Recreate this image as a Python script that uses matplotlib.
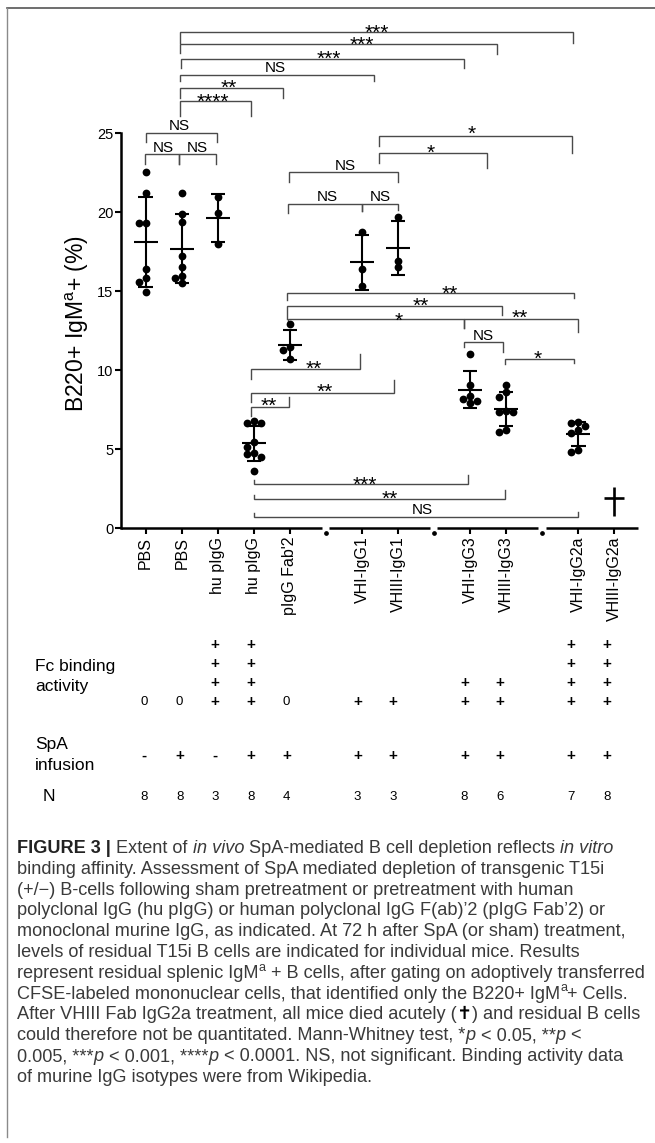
import matplotlib
matplotlib.use('Agg')
import matplotlib.pyplot as plt
import numpy as np
from matplotlib import font_manager
from matplotlib.transforms import ScaledTranslation

W, H, DPI = 655, 1143, 100

# ---------------- data ----------------
categories = ["PBS", "PBS", "hu pIgG", "hu pIgG", "pIgG Fab'2",
              "VHI-IgG1", "VHIII-IgG1", "VHI-IgG3", "VHIII-IgG3",
              "VHI-IgG2a", "VHIII-IgG2a"]
slots = [0, 1, 2, 3, 4, 6, 7, 9, 10, 12, 13]   # x slot of each group
breaks = [5, 8, 11]                             # axis breaks between families

pbs_sham = [22.57, 21.24, 19.3, 19.3, 16.39, 15.86, 15.57, 14.98]
pbs_spa = [21.24, 19.87, 19.37, 17.25, 16.56, 15.97, 15.86, 15.54]
hu_pigg_sham = [20.99, 19.97, 17.97]
hu_pigg_spa = [6.81, 6.68, 6.68, 5.44, 5.16, 4.78, 4.70, 4.49, 3.65]
pigg_fab2 = [12.91, 11.46, 11.28, 10.72]
vhi_igg1 = [18.77, 16.39, 15.36]
vhiii_igg1 = [19.68, 16.94, 16.56]
vhi_igg3 = [11.0, 9.05, 8.4, 8.2, 8.05, 7.95]
vhiii_igg3 = [9.07, 8.65, 8.29, 7.42, 7.38, 7.36, 6.22, 6.11]
vhi_igg2a = [6.7, 6.65, 6.45, 6.2, 6.0, 4.95, 4.85]
vhiii_igg2a = []   # all mice died (cross symbol)
groups = [pbs_sham, pbs_spa, hu_pigg_sham, hu_pigg_spa, pigg_fab2,
          vhi_igg1, vhiii_igg1, vhi_igg3, vhiii_igg3, vhi_igg2a, vhiii_igg2a]

fc_binding = [0, 0, 4, 4, 0, 1, 1, 2, 2, 4, 4]
spa_infusion = ['-', '+', '-', '+', '+', '+', '+', '+', '+', '+', '+']
n_mice = [8, 8, 3, 8, 4, 3, 3, 8, 6, 7, 8]

# significance brackets: x_left, x_right, y_line, y_end_left, y_end_right, label, text_x, text_y
BRACKETS = [
    (0.96, 11.86, 31.39, 30.73, 30.73, '***', 6.41, 31.71),
    (0.96, 9.75, 30.63, 30.06, 30.00, '***', 5.99, 30.95),
    (0.99, 8.84, 29.70, 29.11, 29.11, '***', 5.07, 30.10),
    (0.96, 6.32, 28.69, 28.31, 28.31, 'NS', 3.59, 29.22),
    (0.96, 3.81, 27.89, 27.25, 27.25, '**', 2.30, 28.27),
    (0.96, 2.92, 27.04, 26.11, 26.11, '****', 1.85, 27.36),
    (0.00, 1.97, 25.04, 24.47, 24.47, 'NS', 0.93, 25.53),
    (-0.03, 0.93, 23.67, 23.04, 23.04, 'NS', 0.50, 24.15),
    (0.93, 1.95, 23.67, 23.04, 23.04, 'NS', 1.43, 24.15),
    (6.46, 11.83, 24.83, 24.22, 23.73, '*', 9.03, 25.32),
    (6.46, 9.46, 23.73, 23.10, 22.78, '*', 7.90, 24.15),
    (3.98, 7.00, 22.53, 21.90, 21.90, 'NS', 5.55, 23.00),
    (3.95, 6.01, 20.53, 19.94, 20.10, 'NS', 5.03, 21.03),
    (6.01, 7.00, 20.53, 20.10, 20.15, 'NS', 6.51, 21.03),
    (3.93, 11.89, 14.87, 14.45, 14.58, '**', 8.42, 15.23),
    (3.93, 9.89, 14.09, 13.23, 13.50, '**', 7.63, 14.45),
    (3.95, 8.83, 13.23, 12.93, 12.66, '*', 7.03, 13.54),
    (8.83, 11.99, 13.23, 12.66, 12.44, '**', 10.38, 13.71),
    (8.83, 9.90, 11.81, 11.49, 11.18, 'NS', 9.35, 12.28),
    (9.97, 11.89, 10.72, 10.40, 10.48, '*', 10.86, 11.08),
    (2.92, 5.94, 10.06, 9.43, 11.01, '**', 4.65, 10.44),
    (2.92, 6.89, 8.59, 8.01, 9.39, '**', 4.96, 9.01),
    (2.92, 3.98, 7.70, 7.11, 8.29, '**', 3.40, 8.12),
    (2.99, 8.94, 2.80, 3.06, 3.37, '***', 6.08, 3.16),
    (2.99, 9.96, 1.84, 2.11, 2.42, '**', 6.78, 2.22),
    (2.99, 11.98, 0.73, 0.99, 1.05, 'NS', 7.68, 1.27),
]

# ---------------- fonts ----------------
names = {f.name for f in font_manager.fontManager.ttflist}
BASE = 'Liberation Sans' if 'Liberation Sans' in names else 'DejaVu Sans'
CAP = 'Liberation Sans Narrow' if 'Liberation Sans Narrow' in names else BASE
plt.rcParams['font.family'] = [BASE, 'DejaVu Sans']
plt.rcParams['mathtext.fontset'] = 'custom'
plt.rcParams['mathtext.rm'] = BASE
plt.rcParams['mathtext.it'] = BASE + ':italic'

# ---------------- geometry (pixels) ----------------
AX_L, AX_R = 121.0, 637.5
Y0_PX, Y25_PX = 528.3, 133.3
XMIN, XMAX = -0.685, 13.64
PX_PER_SLOT = (AX_R - AX_L) / (XMAX - XMIN)
PX_PER_UNIT = (Y0_PX - Y25_PX) / 25.0

fig = plt.figure(figsize=(W / DPI, H / DPI), dpi=DPI)
ax = fig.add_axes([AX_L / W, 1 - Y0_PX / H, (AX_R - AX_L) / W, (Y0_PX - Y25_PX) / H])
ax.set_xlim(XMIN, XMAX)
ax.set_ylim(0, 25)
ax.patch.set_alpha(0)

for s in ['top', 'right', 'bottom']:
    ax.spines[s].set_visible(False)
ax.spines['left'].set_linewidth(1.8)
ax.spines['left'].set_bounds(0, 25)

ax.set_yticks([0, 5, 10, 15, 20, 25])
ax.tick_params(axis='y', length=4, width=1.5, labelsize=10.5, pad=1.5)
ax.set_xticks(slots)
ax.set_xticklabels(categories, rotation=90, fontsize=11.5)
ax.tick_params(axis='x', length=4, width=1.5, pad=2)

# broken x axis
edges = [XMIN]
for b in breaks:
    edges += [b - 0.12, b + 0.09]
edges.append(XMAX)
for i in range(0, len(edges), 2):
    ax.plot([edges[i], edges[i + 1]], [0, 0], color='black', lw=1.8,
            solid_capstyle='butt', clip_on=False, zorder=5)
dot_tr = ax.transData + ScaledTranslation(0, -3.2 / 72, fig.dpi_scale_trans)
for b in breaks:
    ax.plot([b], [0], 'o', ms=2.4, color='black', transform=dot_tr, clip_on=False)


def swarm(vals, slot, d=7.0):
    placed, xs = [], []
    for v in vals:
        ypx = v * PX_PER_UNIT
        for off in [0, -1, 1, -2, 2, -3, 3]:
            xpx = off * d
            if all((xpx - px) ** 2 + (ypx - py) ** 2 >= (0.85 * d) ** 2 for px, py in placed):
                break
        placed.append((xpx, ypx))
        xs.append(slot + xpx / PX_PER_SLOT)
    return xs


for vals, k in zip(groups, slots):
    if len(vals) == 0:
        continue
    xs = swarm(vals, k)
    ax.plot(xs, vals, 'o', ms=5.6, color='black', mew=0, clip_on=False, zorder=3)
    m = np.mean(vals)
    sd = np.std(vals, ddof=1)
    kw = dict(color='black', lw=1.5, clip_on=False, zorder=4, solid_capstyle='butt')
    ax.plot([k, k], [m - sd, m + sd], **kw)
    ax.plot([k - 0.2, k + 0.2], [m + sd] * 2, **kw)
    ax.plot([k - 0.2, k + 0.2], [m - sd] * 2, **kw)
    ax.plot([k - 0.33, k + 0.33], [m, m], **kw)

# cross for group where all mice died
kd = slots[-1]
ax.plot([kd, kd], [0.78, 2.63], color='black', lw=1.9, clip_on=False, solid_capstyle='butt')
ax.plot([kd - 0.30, kd + 0.26], [1.9, 1.9], color='black', lw=1.9, clip_on=False, solid_capstyle='butt')


def put_label(x, yc, s):
    if '*' in s:
        fs, frac = 15, 0.575
    else:
        fs, frac = 11, 0.358
    tr = ax.transData + ScaledTranslation(0, -frac * fs / 72, fig.dpi_scale_trans)
    ax.text(x, yc, s, fontsize=fs, ha='center', va='baseline', transform=tr,
            clip_on=False, color='black')


for (xa, xb, y, ya, yb, lab, tx, ty) in BRACKETS:
    ax.plot([xa, xa, xb, xb], [ya, y, y, yb], color='#4a4a4a', lw=1.0,
            clip_on=False, solid_joinstyle='miter')
    put_label(tx, ty, lab)

# ---------------- helpers in pixel space ----------------
def ftx(px):
    return px / W


def fty(py):
    return 1 - py / H


# y label (starts at the bottom near y=411 px)
fig.text(ftx(77), fty(411.5), r'B220+ IgM$^{\mathrm{a}}$+ (%)', rotation=90,
         ha='center', va='bottom', fontsize=16.5)

# ---------------- table below axis ----------------
TABLE_X0, TABLE_DX = 144.0, 35.6
plus_rows = [701.7, 683.0, 664.0, 645.0]
for k, c, spa, n in zip(slots, fc_binding, spa_infusion, n_mice):
    x = ftx(TABLE_X0 + TABLE_DX * k)
    if c == 0:
        fig.text(x, fty(plus_rows[0]), '0', ha='center', va='center', fontsize=9.5)
    else:
        for r in range(c):
            fig.text(x, fty(plus_rows[r]), '+', ha='center', va='center',
                     fontsize=11, fontweight='bold')
    fig.text(x, fty(756.0), spa, ha='center', va='center', fontsize=11,
             fontweight='bold')
    fig.text(x, fty(797.0), str(n), ha='center', va='center', fontsize=9.5)

fig.text(ftx(35), fty(666.7), 'Fc binding', ha='left', va='center', fontsize=12.5)
fig.text(ftx(35), fty(686.7), 'activity', ha='left', va='center', fontsize=12.5)
fig.text(ftx(35), fty(745.0), 'SpA', ha='left', va='center', fontsize=12.5)
fig.text(ftx(35), fty(765.0), 'infusion', ha='left', va='center', fontsize=12.5)
fig.text(ftx(43), fty(796.7), 'N', ha='left', va='center', fontsize=12.5)

# ---------------- frame ----------------
fig.add_artist(plt.Line2D([ftx(7), ftx(655)], [fty(8.3), fty(8.3)], color='#555555', lw=1.2))
fig.add_artist(plt.Line2D([ftx(7.3), ftx(7.3)], [fty(8.3), fty(1137)], color='#8a8a8a', lw=1.0))

# ---------------- caption ----------------
caption_lines = [
    [("FIGURE 3 | ", 'bold'), ("Extent of ", 'reg'), ("in vivo", 'ital'),
     (" SpA-mediated B cell depletion reflects ", 'reg'), ("in vitro", 'ital')],
    [("binding affinity. Assessment of SpA mediated depletion of transgenic T15i", 'reg')],
    [("(+/\u2212) B-cells following sham pretreatment or pretreatment with human", 'reg')],
    [("polyclonal IgG (hu pIgG) or human polyclonal IgG F(ab)\u20192 (pIgG Fab\u20192) or", 'reg')],
    [("monoclonal murine IgG, as indicated. At 72 h after SpA (or sham) treatment,", 'reg')],
    [("levels of residual T15i B cells are indicated for individual mice. Results", 'reg')],
    [("represent residual splenic IgM", 'reg'), ("a", 'sup'),
     (" + B cells, after gating on adoptively transferred", 'reg')],
    [("CFSE-labeled mononuclear cells, that identified only the B220+ IgM", 'reg'),
     ("a", 'sup'), ("+ Cells.", 'reg')],
    [("After VHIII Fab IgG2a treatment, all mice died acutely (", 'reg'),
     ("\u271d", 'cross'), (") and residual B cells", 'reg')],
    [("could therefore not be quantitated. Mann-Whitney test, *", 'reg'), ("p", 'ital'),
     (" < 0.05, **", 'reg'), ("p", 'ital'), (" <", 'reg')],
    [("0.005, ***", 'reg'), ("p", 'ital'), (" < 0.001, ****", 'reg'), ("p", 'ital'),
     (" < 0.0001. NS, not significant. Binding activity data", 'reg')],
    [("of murine IgG isotypes were from Wikipedia.", 'reg')],
]

renderer = fig.canvas.get_renderer()


def props(style, fs):
    p = dict(fontsize=fs, color='#3a3a3a', family=[CAP, 'DejaVu Sans'])
    if style == 'bold':
        p.update(fontweight='bold', color='#222222')
    elif style == 'ital':
        p.update(fontstyle='italic')
    elif style == 'sup':
        p.update(fontsize=fs * 0.7)
    elif style == 'cross':
        p.update(family=['DejaVu Sans'], fontweight='bold', color='black')
    return p


def text_width(s, p):
    t1 = fig.text(0, 0, '|' + s + '|', **p)
    t2 = fig.text(0, 0, '||', **p)
    w = t1.get_window_extent(renderer).width - t2.get_window_extent(renderer).width
    t1.remove()
    t2.remove()
    return w


# fit caption font size to the reference line width
ref_line = caption_lines[6]
w10 = sum(text_width(s, props(st, 10)) for s, st in ref_line)
CAP_FS = 10 * 629.0 / w10

CAP_X, CAP_BASE0, CAP_DY = 17.3, 853.0, 20.8
for i, line in enumerate(caption_lines):
    x = CAP_X
    yb = CAP_BASE0 + CAP_DY * i
    for s, st in line:
        p = props(st, CAP_FS)
        y = yb - (CAP_FS * 0.4 * DPI / 72 if st == 'sup' else 0)
        fig.text(ftx(x), fty(y), s, ha='left', va='baseline', **p)
        x += text_width(s, p)

fig.savefig('out.png', dpi=DPI)
